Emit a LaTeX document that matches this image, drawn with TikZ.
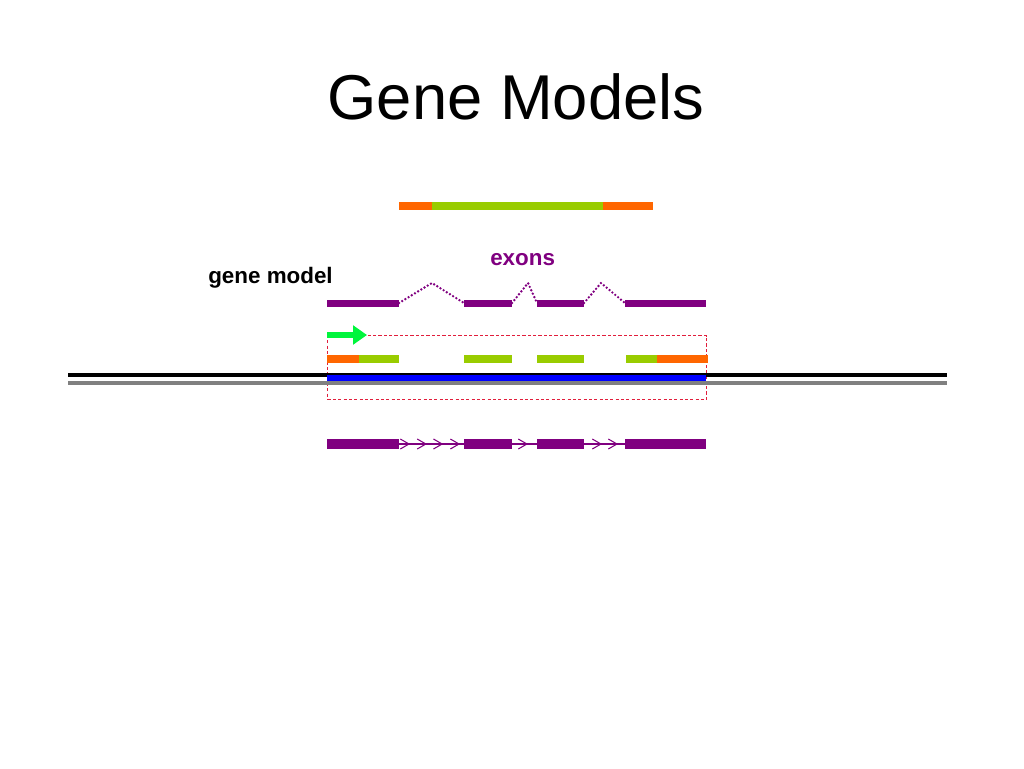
\documentclass[tikz,border=0pt]{standalone}
\usepackage{fontspec}
\setmainfont{Liberation Sans}
\usetikzlibrary{arrows.meta,decorations.markings}
\definecolor{gmpurple}{RGB}{128,0,128}
\definecolor{gmorange}{RGB}{255,102,0}
\definecolor{gmgreen}{RGB}{153,204,0}
\definecolor{gmarrow}{RGB}{0,245,60}
\definecolor{gmred}{RGB}{225,30,60}
\definecolor{gmgray}{RGB}{128,128,128}
\newcommand\gmchev{\arrow{Straight Barb[length=6.5pt,width=7.5pt,line width=0.8pt]}}
\tikzset{
  utr/.style={draw=gmorange,line width=6pt},
  cds/.style={draw=gmgreen,line width=6pt},
  exonbar/.style={draw=gmpurple,line width=5.25pt},
  exonthick/.style={draw=gmpurple,line width=7.5pt},
  intronhat/.style={draw=gmpurple,line width=2pt,line cap=round,dash pattern=on 0pt off 2.8pt},
  intronline/.style={draw=gmpurple,line width=0.8pt},
  chev/.style={postaction={decorate},decoration={markings,#1}},
  label/.style={inner sep=0pt,anchor=base west,font=\fontsize{16.8}{18}\selectfont\bfseries},
}
\begin{document}
\begin{tikzpicture}[x=0.75pt,y=-0.75pt]
\useasboundingbox (0,0) rectangle (1024,768);
% title
\node[inner sep=0pt,anchor=base,font=\fontsize{47.5}{50}\selectfont] (title) at (516,119) {Gene Models};
% top transcript bar
\coordinate (t0) at (399,206);
\coordinate (t1) at (432,206);
\coordinate (t2) at (603,206);
\coordinate (t3) at (653,206);
\draw[utr] (t0) -- (t1);
\draw[cds] (t1) -- (t2);
\draw[utr] (t2) -- (t3);
% labels
\node[label] (gm) at (208,283) {gene model};
\node[label,text=gmpurple] (ex) at (490,265) {exons};
% gene model with hat introns
\coordinate (e1a) at (327,303); \coordinate (e1b) at (399,303);
\coordinate (e2a) at (464,303); \coordinate (e2b) at (512,303);
\coordinate (e3a) at (537,303); \coordinate (e3b) at (584,303);
\coordinate (e4a) at (625,303); \coordinate (e4b) at (706,303);
\coordinate (p1) at (432,283);
\coordinate (p2) at (528,283);
\coordinate (p3) at (601,283);
\draw[intronhat] (e1b) -- (p1) -- (e2a);
\draw[intronhat] (e2b) -- (p2) -- (e3a);
\draw[intronhat] (e3b) -- (p3) -- (e4a);
\draw[exonbar] (e1a) -- (e1b);
\draw[exonbar] (e2a) -- (e2b);
\draw[exonbar] (e3a) -- (e3b);
\draw[exonbar] (e4a) -- (e4b);
% dashed region
\node[draw=gmred,dash pattern=on 2.4pt off 1.6pt,line width=0.75pt,inner sep=0pt,
      minimum width=284.25pt,minimum height=48pt,anchor=north west] (region) at (327,335) {};
% start arrow
\coordinate (a0) at (327,335);
\coordinate (a1) at (367,335);
\draw[draw=gmarrow,line width=5pt,-{Triangle[length=10.5pt,width=14pt]}] (a0) -- (a1);
% CDS row
\coordinate (c0) at (327,359); \coordinate (c1) at (359,359); \coordinate (c2) at (399,359);
\coordinate (c3) at (464,359); \coordinate (c4) at (512,359);
\coordinate (c5) at (537,359); \coordinate (c6) at (584,359);
\coordinate (c7) at (626,359); \coordinate (c8) at (657,359); \coordinate (c9) at (708,359);
\draw[utr] (c0) -- (c1);
\draw[cds] (c1) -- (c2);
\draw[cds] (c3) -- (c4);
\draw[cds] (c5) -- (c6);
\draw[cds] (c7) -- (c8);
\draw[utr] (c8) -- (c9);
% genomic lines
\coordinate (g0) at (68,375); \coordinate (g1) at (947,375);
\coordinate (h0) at (68,383); \coordinate (h1) at (947,383);
\coordinate (b0) at (327,378); \coordinate (b9) at (706,378);
\draw[black,line width=2.4pt] (g0) -- (g1);
\draw[gmgray,line width=2.4pt] (h0) -- (h1);
\draw[blue,line width=3.8pt] (b0) -- (b9);
% bottom gene model with arrowed introns
\coordinate (f1a) at (327,444); \coordinate (f1b) at (399,444);
\coordinate (f2a) at (464,444); \coordinate (f2b) at (512,444);
\coordinate (f3a) at (537,444); \coordinate (f3b) at (584,444);
\coordinate (f4a) at (625,444); \coordinate (f4b) at (706,444);
\draw[intronline,chev={mark=at position 0.17 with {\gmchev},mark=at position 0.43 with {\gmchev},
  mark=at position 0.68 with {\gmchev},mark=at position 0.94 with {\gmchev}}] (f1b) -- (f2a);
\draw[intronline,chev={mark=at position 0.64 with {\gmchev}}] (f2b) -- (f3a);
\draw[intronline,chev={mark=at position 0.44 with {\gmchev},mark=at position 0.83 with {\gmchev}}] (f3b) -- (f4a);
\draw[exonthick] (f1a) -- (f1b);
\draw[exonthick] (f2a) -- (f2b);
\draw[exonthick] (f3a) -- (f3b);
\draw[exonthick] (f4a) -- (f4b);
\end{tikzpicture}
\end{document}
